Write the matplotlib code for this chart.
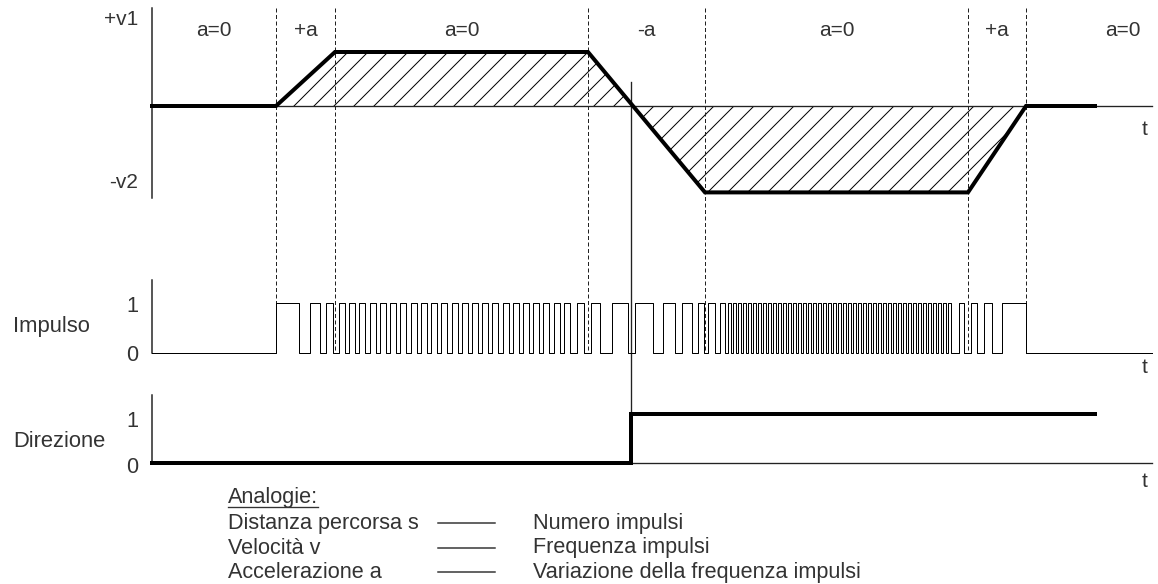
import matplotlib
matplotlib.use("Agg")
import matplotlib.pyplot as plt

plt.rcParams['font.family'] = ['Liberation Sans', 'DejaVu Sans']
plt.rcParams['hatch.linewidth'] = 0.6
plt.rcParams['hatch.color'] = 'black'

# ---- data (time axis in drawing units) ----
phase_bounds = [152, 276, 335, 588, 705, 968, 1026, 1220]
phase_labels = ['a=0', '+a', 'a=0', '-a', 'a=0', '+a', 'a=0']

vel_t = [152, 276, 335, 588, 705, 968, 1026, 1095]
vel_v = [0, 0, 1.0, 1.0, -1.6, -1.6, 0, 0]   # +v1 = 1, -v2 = -1.6
t_cross = 631

dir_t = [152, 631, 631, 1095]
dir_v = [0, 0, 1, 1]

pulse_on = [276, 310, 326,
            339, 349, 359, 370, 380, 390, 400, 411, 421, 431, 441, 452, 462,
            472, 482, 492, 503, 513, 523, 533, 543, 554, 564,
            577, 591, 612, 635, 663, 682, 698, 708, 720,
            728, 733, 738, 743, 748, 753, 758, 763, 768, 773, 778, 783, 788,
            793, 798, 803, 808, 813, 818, 823, 828, 833, 838, 843, 848, 853,
            858, 863, 868, 873, 878, 883, 888, 893, 898, 903, 908, 913, 918,
            923, 928, 933, 938, 943, 948,
            959, 971, 984, 1002]
pulse_off = [299, 320, 333,
             345, 355, 365, 376, 386, 396, 406, 417, 427, 437, 447, 458, 468,
             478, 488, 498, 509, 519, 529, 539, 549, 560, 570,
             584, 600, 628, 653, 675, 692, 704, 715, 725,
             731, 736, 741, 746, 751, 756, 761, 766, 771, 776, 781, 786, 791,
             796, 801, 806, 811, 816, 821, 826, 831, 836, 841, 846, 851, 856,
             861, 866, 871, 876, 881, 886, 891, 896, 901, 906, 911, 916, 921,
             926, 931, 936, 941, 946, 951,
             964, 977, 992, 1026]

analog_left = ['Distanza percorsa s', 'Velocità v', 'Accelerazione a']
analog_right = ['Numero impulsi', 'Frequenza impulsi',
                'Variazione della frequenza impulsi']

# ---- layout ----
W, H, DPI = 1158, 584, 120
AX_X, AX_END = 152, 1152
V_ZERO, V_SCALE = 106, 54
P_BASE, P_H = 353, 50
D_BASE, D_H = 463, 49
TXT = '#333333'


def vy(v):
    return V_ZERO - V_SCALE * v


fig = plt.figure(figsize=(W / DPI, H / DPI), dpi=DPI)
ax = fig.add_axes([0, 0, 1, 1])
ax.set_xlim(0, W)
ax.set_ylim(H, 0)
ax.axis('off')

# velocity panel
vel_y = [vy(v) for v in vel_v]
ax.fill_between(vel_t, vel_y, V_ZERO, facecolor='none', edgecolor='black',
                hatch='//', linewidth=0)
ax.plot([AX_X, AX_X], [8, 198], color='#222222', lw=0.9)
ax.plot([AX_X, AX_END], [V_ZERO, V_ZERO], color='#222222', lw=0.8)
for x in phase_bounds[1:-1]:
    ax.plot([x, x], [8, P_BASE], color='#222222', lw=0.6,
            linestyle=(0, (4, 2.5)))
ax.plot([t_cross, t_cross], [82, D_BASE - D_H], color='#222222', lw=0.8)
ax.plot(vel_t, vel_y, color='black', lw=2.4, solid_joinstyle='miter')

for i, lab in enumerate(phase_labels):
    xc = (phase_bounds[i] + phase_bounds[i + 1]) / 2
    ax.text(xc, 36, lab, ha='center', va='baseline', fontsize=12.5, color=TXT)
ax.text(138, 25, '+v1', ha='right', va='baseline', fontsize=12.5, color=TXT)
ax.text(138, 188, '-v2', ha='right', va='baseline', fontsize=12.5, color=TXT)
ax.text(1145, 135, 't', ha='center', va='baseline', fontsize=12.5, color=TXT)

# impulse panel
px, py = [AX_X], [P_BASE]
for on, off in zip(pulse_on, pulse_off):
    px += [on, on, off, off]
    py += [P_BASE, P_BASE - P_H, P_BASE - P_H, P_BASE]
px.append(AX_END)
py.append(P_BASE)
ax.plot([AX_X, AX_X], [280, P_BASE], color='#222222', lw=0.9)
ax.plot(px, py, color='black', lw=0.6)
ax.text(13, 332, 'Impulso', ha='left', va='baseline', fontsize=13.2, color=TXT)
ax.text(138, 312, '1', ha='right', va='baseline', fontsize=13, color=TXT)
ax.text(138, 361, '0', ha='right', va='baseline', fontsize=13, color=TXT)
ax.text(1145, 373, 't', ha='center', va='baseline', fontsize=12.5, color=TXT)

# direction panel
ax.plot([AX_X, AX_X], [395, D_BASE], color='#222222', lw=0.9)
ax.plot([AX_X, AX_END], [D_BASE, D_BASE], color='#222222', lw=0.8)
ax.plot(dir_t, [D_BASE - D_H * v for v in dir_v], color='black', lw=2.4,
        solid_joinstyle='miter')
ax.text(13, 447, 'Direzione', ha='left', va='baseline', fontsize=13.2, color=TXT)
ax.text(138, 427, '1', ha='right', va='baseline', fontsize=13, color=TXT)
ax.text(138, 473, '0', ha='right', va='baseline', fontsize=13, color=TXT)
ax.text(1145, 487, 't', ha='center', va='baseline', fontsize=12.5, color=TXT)

# analogies
head = ax.text(228, 503, 'Analogie:', ha='left', va='baseline', fontsize=13,
               color=TXT)
for i, (l, r) in enumerate(zip(analog_left, analog_right)):
    yb = 529 + i * 24.5
    ax.text(228, yb, l, ha='left', va='baseline', fontsize=13, color=TXT)
    ax.plot([438, 495], [yb - 6, yb - 6], color='#333333', lw=0.9)
    ax.text(533, yb, r, ha='left', va='baseline', fontsize=13, color=TXT)

fig.canvas.draw()
bb = head.get_window_extent().transformed(ax.transData.inverted())
ax.plot([bb.x0, bb.x1], [507, 507], color=TXT, lw=0.8)

fig.savefig('out.png', dpi=DPI)
